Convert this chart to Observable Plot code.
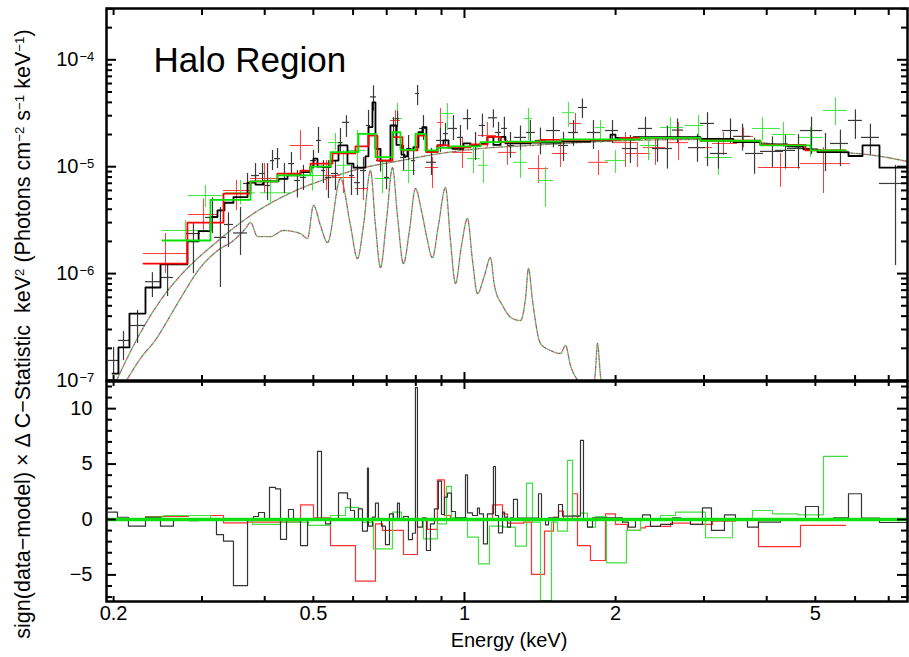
<!DOCTYPE html>
<html><head><meta charset="utf-8">
<script src="https://cdn.jsdelivr.net/npm/d3@7"></script>
<script src="https://cdn.jsdelivr.net/npm/@observablehq/plot@0.6"></script>
<style>
body{margin:0;background:#fff;}
#wrap{position:relative;width:909px;height:657px;font-family:"Liberation Sans",Arial,Helvetica,sans-serif;color:#000;overflow:hidden;}
#top,#bot{position:absolute;left:0;}
#top{top:0;z-index:2;} #bot{top:380px;z-index:1;}
#top svg,#bot svg{overflow:visible;}
#ytitle{position:absolute;left:24px;top:334px;transform:translate(-50%,-50%) rotate(-90deg);white-space:nowrap;font-size:21.5px;line-height:1;}
#ytitle sup{font-size:0.62em;vertical-align:0.5em;line-height:0;}
#xtitle{position:absolute;left:509px;top:640px;transform:translate(-50%,-50%);font-size:20px;white-space:nowrap;line-height:1;}
</style></head>
<body><div id="wrap"><div id="top"></div><div id="bot"></div>
<div id="ytitle">sign(data−model) × Δ C−Statistic&nbsp;&nbsp;keV<sup>2</sup> (Photons cm<sup>−2</sup> s<sup>−1</sup> keV<sup>−1</sup>)</div>
<div id="xtitle">Energy (keV)</div></div>
<script>
// ---------- axes ----------
const xDomain = [0.1936, 7.63];
const xTicksMinor = [0.2,0.3,0.4,0.5,0.6,0.7,0.8,0.9,2,3,4,5,6,7];
const xTicksMajor = [1];
const xTickLabels = [0.2, 0.5, 1, 2, 5];
const yTopDomain = [1e-7, 3.02e-4];
const yTopDecades = [1e-7, 1e-6, 1e-5, 1e-4];
const yTopExponents = ["−7", "−6", "−5", "−4"];
const yTopMinor = [2e-7,3e-7,4e-7,5e-7,6e-7,7e-7,8e-7,9e-7,2e-6,3e-6,4e-6,5e-6,6e-6,7e-6,8e-6,9e-6,2e-5,3e-5,4e-5,5e-5,6e-5,7e-5,8e-5,9e-5,2e-4,3e-4];
const yBotDomain = [-7.4, 12.45];
const yBotMajor = [-5, 0, 5, 10];
const yBotLabels = ["−5", "0", "5", "10"];
const yBotMinor = [-7,-6,-4,-3,-2,-1,1,2,3,4,6,7,8,9,11,12];

// ---------- folded models (bin edges, values) ----------
const blackModelE = [0.199,0.2045,0.2151,0.2315,0.248,0.2806,0.2954,0.3119,0.3221,0.3326,0.3466,0.3697,0.3835,0.3978,0.4261,0.4441,0.4714,0.4935,0.5003,0.5096,0.5214,0.5409,0.5611,0.5847,0.601,0.635,0.6438,0.6557,0.6648,0.6802,0.7121,0.732,0.749,0.7593,0.7699,0.7914,0.8097,0.8247,0.8399,0.8834,0.9081,0.9294,0.9465,0.9954,1.028,1.076,1.111,1.142,1.18,1.207,1.354,1.553,1.782,1.954,1.999,2.171,2.952,3.434,3.887,4.4,4.735,5.049,5.821,6.207,6.71,7.63];
const blackModel = [1.16e-7,2.04e-7,4.23e-7,7.41e-7,1.22e-6,2.0e-6,2.5e-6,3.4e-6,3.9e-6,4.6e-6,5.2e-6,7.1e-6,6.8e-6,7.3e-6,7.7e-6,8.3e-6,8.9e-6,1.0e-5,1.19e-5,1.0e-5,9.9e-6,1.14e-5,1.58e-5,1.07e-5,9.8e-6,1.25e-5,2.35e-5,4.0e-5,1.47e-5,1.14e-5,2.43e-5,1.6e-5,1.3e-5,1.25e-5,1.45e-5,1.52e-5,2.1e-5,2.35e-5,1.37e-5,1.58e-5,1.76e-5,1.5e-5,1.47e-5,1.65e-5,1.58e-5,1.64e-5,1.89e-5,1.6e-5,1.9e-5,1.65e-5,1.68e-5,1.72e-5,1.76e-5,2.0e-5,1.86e-5,1.89e-5,1.82e-5,1.7e-5,1.62e-5,1.55e-5,1.45e-5,1.37e-5,1.26e-5,1.58e-5,9.8e-6];
const redModelE = [0.2294,0.2806,0.3311,0.3748,0.4241,0.4714,0.4935,0.5458,0.6066,0.6438,0.6709,0.7187,0.7524,0.806,0.8399,0.8834,0.9294,1.028,1.111,1.18,1.417,2.045,2.952,3.887,4.779,5.741];
const redModel = [1.24e-6,3.0e-6,5.6e-6,7.3e-6,8.6e-6,9.2e-6,1.07e-5,1.33e-5,1.55e-5,1.95e-5,1.14e-5,1.89e-5,1.42e-5,1.95e-5,1.37e-5,1.58e-5,1.52e-5,1.62e-5,1.9e-5,1.7e-5,1.78e-5,1.86e-5,1.75e-5,1.6e-5,1.42e-5];
const greenModelE = [0.2503,0.3119,0.3748,0.4241,0.4935,0.5409,0.6149,0.6648,0.7187,0.7455,0.7986,0.8361,0.8834,0.9378,1.076,1.18,1.553,2.242,2.952,3.887,4.89,5.741];
const greenModel = [2.04e-6,4.9e-6,7.3e-6,8.3e-6,1.0e-5,1.37e-5,2.03e-5,1.23e-5,2.1e-5,1.44e-5,2.03e-5,1.42e-5,1.5e-5,1.55e-5,1.7e-5,1.72e-5,1.8e-5,1.86e-5,1.75e-5,1.58e-5,1.42e-5];

// ---------- model components (dotted) ----------
const contE = [0.2027,0.2141,0.2263,0.239,0.2537,0.2718,0.2911,0.3148,0.3419,0.3748,0.4203,0.4714,0.5409,0.6206,0.7455,0.8959,1.0761,1.3537,1.866,2.952,3.887,5.119,6.741,7.628];
const contV = [1.0e-7,1.71e-7,2.81e-7,4.33e-7,6.51e-7,9.6e-7,1.33e-6,1.83e-6,2.53e-6,3.49e-6,4.83e-6,6.25e-6,7.93e-6,9.62e-6,1.14e-5,1.33e-5,1.48e-5,1.58e-5,1.72e-5,1.8e-5,1.68e-5,1.42e-5,1.25e-5,1.12e-5];
const thermE = [0.2132,0.2263,0.2435,0.2561,0.2718,0.2979,0.3221,0.3466,0.3663,0.3748,0.387,0.4108,0.4359,0.4714,0.4868,0.5003,0.5166,0.5335,0.5662,0.5928,0.6121,0.6292,0.6497,0.6648,0.6802,0.6992,0.7187,0.7353,0.7559,0.7769,0.7986,0.8209,0.8399,0.8634,0.8874,0.9166,0.9378,0.9596,0.9863,1.0139,1.0374,1.0614,1.096,1.1265,1.1474,1.1906,1.2464,1.293,1.323,1.3414,1.3662,1.4173,1.4835,1.5534,1.5894,1.6262,1.6793,1.7418,1.7988,1.8237,1.8405,1.866,1.9093];
const thermV = [1.04e-7,1.61e-7,2.47e-7,3.64e-7,5.85e-7,1.14e-6,1.64e-6,2.04e-6,2.64e-6,3.01e-6,2.22e-6,2.22e-6,2.53e-6,2.37e-6,2.13e-6,4.34e-6,2.82e-6,1.95e-6,7.76e-6,2.82e-6,1.38e-6,2.82e-6,9.21e-6,2.82e-6,1.14e-6,3.14e-6,9.83e-6,3.49e-6,1.24e-6,2.53e-6,6.25e-6,3.89e-6,2.27e-6,1.41e-6,2.82e-6,6.39e-6,2.04e-6,8.08e-7,1.83e-6,3.28e-6,1.33e-6,6.51e-7,9.6e-7,1.41e-6,7.74e-7,5.03e-7,3.8e-7,3.64e-7,5.85e-7,1.12e-6,5.6e-7,2.22e-7,1.91e-7,1.79e-7,2.13e-7,1.38e-7,1.0e-7,7.24e-8,7.24e-8,1.24e-7,2.22e-7,1.11e-7,6.5e-8];

// ---------- data points ----------
const blackE = [0.2,0.2093,0.2232,0.239,0.2562,0.2885,0.3148,0.3265,0.3388,0.358,0.3697,0.3835,0.396,0.4052,0.4146,0.4242,0.4379,0.4522,0.4648,0.4778,0.5003,0.5119,0.5237,0.5359,0.5534,0.5662,0.582,0.5955,0.6121,0.6293,0.644,0.6589,0.6805,0.6995,0.7223,0.7357,0.7563,0.7739,0.7918,0.8065,0.8286,0.8596,0.8957,0.9167,0.9508,0.9818,1.0139,1.052,1.086,1.142,1.169,1.201,1.235,1.293,1.353,1.417,1.504,1.575,1.649,1.718,1.807,1.972,2.141,2.294,2.424,2.537,2.657,2.912,3.049,3.206,3.388,3.58,3.783,4.107,4.36,4.628,4.913,5.238,5.61,6.009,6.437,7.222];
const blackElo = [0.1953,0.2046,0.2152,0.2315,0.248,0.2793,0.3048,0.3177,0.3326,0.3466,0.363,0.3765,0.3906,0.4015,0.4108,0.4184,0.43,0.4461,0.4585,0.4713,0.4934,0.5072,0.5189,0.5285,0.5433,0.561,0.5715,0.5901,0.6038,0.6206,0.638,0.6499,0.6681,0.6931,0.7124,0.7289,0.7459,0.7668,0.7844,0.7991,0.8138,0.84,0.8795,0.9082,0.9292,0.9685,0.9954,1.033,1.071,1.116,1.153,1.185,1.218,1.258,1.329,1.385,1.457,1.539,1.611,1.687,1.758,1.909,2.064,2.221,2.369,2.48,2.596,2.794,2.952,3.09,3.266,3.436,3.63,3.887,4.164,4.4,4.671,4.935,5.36,5.82,6.177,6.709];
const blackEhi = [0.2046,0.2152,0.2315,0.248,0.2633,0.2979,0.3236,0.3357,0.3466,0.3697,0.3765,0.3906,0.4015,0.4108,0.4184,0.43,0.4461,0.4585,0.4713,0.4845,0.5072,0.5189,0.5285,0.5433,0.561,0.5715,0.5901,0.6038,0.6206,0.638,0.6499,0.6681,0.6931,0.7092,0.7289,0.7424,0.7668,0.7844,0.7991,0.8138,0.84,0.8795,0.9082,0.9292,0.9685,0.9954,1.033,1.071,1.101,1.163,1.185,1.218,1.258,1.329,1.385,1.457,1.553,1.611,1.687,1.758,1.866,2.027,2.211,2.369,2.48,2.596,2.731,3.02,3.148,3.342,3.515,3.714,3.942,4.32,4.565,4.89,5.166,5.559,5.82,6.205,6.709,7.56];
const blackV = [1.54e-7,2.37e-7,3.27e-7,8.4e-7,9.2e-7,2.37e-6,3.35e-6,2.18e-6,2.88e-6,2.4e-6,6.97e-6,8.27e-6,8.64e-6,6.67e-6,1.14e-5,1.19e-5,7.76e-6,1.07e-5,7.43e-6,7.93e-6,1.14e-5,1.76e-5,9.21e-6,7.93e-6,8.64e-6,1.68e-5,2.6e-5,8.27e-6,7.1e-6,9.21e-6,2.43e-5,4.5e-5,1.14e-5,7.93e-6,2.43e-5,2.82e-5,1.22e-5,1.48e-5,1.14e-5,4.84e-5,2.28e-5,1.1e-5,1.76e-5,2.04e-5,2.28e-5,1.88e-5,2.82e-5,1.58e-5,2.43e-5,2.87e-5,2.09e-5,2.28e-5,1.58e-5,1.88e-5,2.09e-5,1.76e-5,2.18e-5,1.58e-5,2.09e-5,3.58e-5,2.09e-5,2.18e-5,1.48e-5,2.28e-5,1.48e-5,1.48e-5,2.2e-5,1.51e-5,2.54e-5,1.33e-5,2.18e-5,1.92e-5,1.33e-5,1.39e-5,1.42e-5,1.48e-5,2.18e-5,1.42e-5,1.65e-5,2.71e-5,1.88e-5,6.97e-6];
const blackVlo = [1.16e-7,1.54e-7,2.22e-7,5.97e-7,6.1e-7,1.0e-6,2.37e-6,7.41e-7,1.75e-6,1.48e-6,5.61e-6,6.97e-6,6.67e-6,4.83e-6,9.21e-6,9.6e-6,5.61e-6,8.27e-6,5.1e-6,5.99e-6,9.5e-6,1.33e-5,6.97e-6,5.04e-6,5.99e-6,1.36e-5,1.88e-5,5.38e-6,5.38e-6,5.99e-6,1.65e-5,3.3e-5,8.9e-6,6.1e-6,1.88e-5,2.33e-5,9.21e-6,1.14e-5,8.27e-6,3.73e-5,1.76e-5,8.27e-6,1.36e-5,1.58e-5,1.76e-5,1.42e-5,2.2e-5,1.14e-5,1.88e-5,2.3e-5,1.65e-5,1.76e-5,1.2e-5,1.42e-5,1.6e-5,1.29e-5,1.5e-5,1.12e-5,1.55e-5,2.82e-5,1.45e-5,1.65e-5,1.07e-5,1.76e-5,1.1e-5,9.5e-6,1.65e-5,1.1e-5,1.0e-5,9.5e-6,1.65e-5,1.4e-5,8.5e-6,9.8e-6,9.5e-6,9.5e-6,1.3e-5,9e-6,1.0e-5,1.8e-5,1.27e-5,1.19e-6];
const blackVhi = [2.04e-7,2.87e-7,4.52e-7,1.02e-6,1.24e-6,3.0e-6,5.1e-6,4.15e-6,3.7e-6,4.15e-6,8.64e-6,1.07e-5,1.07e-5,1.07e-5,1.42e-5,1.48e-5,1.07e-5,1.36e-5,9.21e-6,1.03e-5,1.42e-5,2.33e-5,1.14e-5,1.14e-5,1.14e-5,2.28e-5,3.0e-5,1.03e-5,1.03e-5,1.22e-5,3.36e-5,5.7e-5,1.48e-5,1.1e-5,2.88e-5,3.3e-5,1.58e-5,1.96e-5,1.48e-5,5.75e-5,3.01e-5,1.48e-5,2.28e-5,2.54e-5,3.01e-5,2.43e-5,3.4e-5,2.09e-5,3.1e-5,3.4e-5,2.6e-5,2.9e-5,2.09e-5,2.4e-5,2.7e-5,2.3e-5,2.9e-5,2.1e-5,2.7e-5,4.3e-5,2.7e-5,2.7e-5,1.96e-5,2.9e-5,1.88e-5,2.4e-5,2.8e-5,2.0e-5,3.2e-5,1.7e-5,2.8e-5,2.5e-5,1.85e-5,1.9e-5,1.95e-5,2.0e-5,2.9e-5,2.05e-5,2.2e-5,3.4e-5,2.5e-5,1.03e-5];

const redE = [0.2538,0.302,0.3514,0.3997,0.4713,0.5309,0.5741,0.6293,0.7289,0.8635,0.8957,0.9908,1.111,1.218,1.404,1.553,1.664,1.849,2.093,2.211,2.402,2.67,2.912,3.281,3.597,4.261,5.19];
const redElo = [0.2294,0.2819,0.3311,0.3748,0.4502,0.5003,0.5458,0.6066,0.7124,0.8362,0.8834,0.9465,1.066,1.169,1.341,1.497,1.618,1.766,1.972,2.093,2.273,2.537,2.794,3.119,3.467,3.852,4.671];
const redEhi = [0.2806,0.3236,0.3748,0.4242,0.5003,0.5662,0.6066,0.644,0.7459,0.8876,0.9082,1.0373,1.158,1.269,1.47,1.604,1.71,1.936,2.211,2.347,2.514,2.794,3.119,3.499,3.765,4.671,5.873];
const redV = [1.54e-6,3.57e-6,5.99e-6,7.76e-6,1.58e-5,8.27e-6,7.93e-6,6.25e-6,2.71e-5,9.83e-6,2.59e-5,1.36e-5,1.96e-5,1.36e-5,9.6e-6,1.33e-5,2.54e-5,1.1e-5,1.68e-5,1.33e-5,1.51e-5,1.68e-5,1.51e-5,1.65e-5,1.92e-5,9.83e-6,1.07e-5];
const redVlo = [1.0e-6,2.4e-6,3.89e-6,5.61e-6,1.14e-5,5.99e-6,5.61e-6,4.83e-6,2.04e-5,6.25e-6,1.88e-5,9.6e-6,1.5e-5,1.03e-5,6.97e-6,9.83e-6,2.04e-5,8.27e-6,9.83e-6,9.83e-6,1.03e-5,1.14e-5,1.14e-5,1.27e-5,1.5e-5,6.4e-6,5.61e-6];
const redVhi = [2.37e-6,5.0e-6,7.43e-6,1.07e-5,2.18e-5,1.14e-5,9.8e-6,7.93e-6,3.36e-5,1.22e-5,3.5e-5,1.84e-5,2.6e-5,1.76e-5,1.27e-5,1.76e-5,3.15e-5,1.42e-5,2.09e-5,1.68e-5,1.84e-5,2.59e-5,1.76e-5,2.09e-5,2.3e-5,1.33e-5,1.51e-5];

const greenE = [0.278,0.3048,0.358,0.411,0.498,0.5534,0.5741,0.6121,0.6868,0.7357,0.7739,0.9249,1.042,1.091,1.293,1.341,1.45,1.611,1.866,2.0,2.326,2.572,2.925,3.206,3.923,4.32,4.89,5.483];
const greenElo = [0.2503,0.2819,0.3341,0.3924,0.4713,0.5359,0.5585,0.5874,0.665,0.719,0.7528,0.8957,1.0139,1.066,1.252,1.317,1.404,1.567,1.824,1.909,2.242,2.457,2.755,3.02,3.747,4.107,4.628,5.19];
const greenEhi = [0.309,0.3311,0.3835,0.4502,0.5285,0.5741,0.5928,0.6351,0.7124,0.7528,0.7991,0.9508,1.076,1.116,1.335,1.366,1.504,1.657,1.909,2.093,2.424,2.731,2.993,3.42,4.261,4.565,5.19,5.793];
const greenV = [2.53e-6,5.38e-6,5.7e-6,5.7e-6,8.27e-6,1.68e-5,1.03e-5,1.42e-5,7.76e-6,2.82e-5,9.21e-6,3.15e-5,1.19e-5,1.03e-5,1.1e-5,2.82e-5,7.43e-6,3.2e-5,2.33e-5,1.14e-5,1.58e-5,2.33e-5,2.43e-5,1.22e-5,2.28e-5,2.0e-5,1.88e-5,3.36e-5];
const greenVlo = [2.04e-6,4.15e-6,4.4e-6,4.4e-6,5.9e-6,1.42e-5,7.43e-6,9.6e-6,5.61e-6,2.04e-5,6.97e-6,2.18e-5,8.64e-6,6.97e-6,7.76e-6,1.76e-5,4.15e-6,2.33e-5,1.65e-5,8.64e-6,1.14e-5,1.88e-5,1.76e-5,8.27e-6,1.76e-5,1.51e-5,1.22e-5,2.43e-5];
const greenVhi = [3.14e-6,6.67e-6,7.43e-6,7.9e-6,1.07e-5,2.04e-5,1.42e-5,2.18e-5,1.14e-5,3.9e-5,1.22e-5,3.9e-5,1.58e-5,1.42e-5,1.42e-5,3.5e-5,9.83e-6,3.99e-5,2.71e-5,1.42e-5,1.88e-5,2.87e-5,3.01e-5,1.58e-5,2.87e-5,2.59e-5,2.33e-5,4.4e-5];

// ---------- residuals (bin edges, values) ----------
const blackResE = [0.1954,0.2036,0.2141,0.2315,0.248,0.2632,0.2832,0.2954,0.3206,0.3311,0.3466,0.3697,0.38,0.3888,0.3996,0.4089,0.4203,0.4301,0.4421,0.4461,0.4565,0.4714,0.4868,0.5096,0.519,0.5286,0.5409,0.5611,0.5847,0.5928,0.6038,0.6149,0.6263,0.6409,0.6438,0.6557,0.6648,0.674,0.6834,0.696,0.7089,0.722,0.7353,0.7421,0.7559,0.7734,0.7877,0.7986,0.806,0.8247,0.8399,0.8555,0.8713,0.8874,0.8999,0.9123,0.925,0.9421,0.9596,1.0046,1.0139,1.0374,1.0614,1.0712,1.091,1.1111,1.1421,1.1527,1.1689,1.1906,1.2015,1.2182,1.235,1.2521,1.2753,1.4043,1.4238,1.4501,1.4702,1.5392,1.5677,1.7026,1.7261,1.7581,1.7988,2.0641,2.1217,2.191,2.2626,2.3471,2.4573,2.5963,2.6934,2.8199,2.9792,3.1048,3.2955,3.466,3.6623,3.8518,4.2608,4.7791,5.0726,5.4335,5.8206,6.1783,6.7098,7.628];
const blackRes = [0.66,0.2,-0.6,0.2,-0.6,0.05,-0.1,0,-1.36,-1.96,-5.96,0,0.27,0.63,0,2.9,2.76,-1.8,0,0.9,0,-2.35,0,6.14,0,-0.4,0,2.4,1.87,0.81,0.06,0.96,-1.05,4.63,-0.6,0.21,1.47,-0.09,-0.6,-2.26,0.51,0.06,1.47,0,0.27,-1.81,-1.24,11.9,-0.69,0.15,-2.8,-0.39,0.96,3.46,0.45,2.02,2.38,0.72,0.15,4.03,0.6,0.36,1.02,0.51,-2.2,0.51,4.78,0.36,-1.2,0.66,0.21,-0.69,0.15,1.81,0.12,2.32,-0.09,-0.48,0.15,1.35,0.3,7.13,-0.09,-0.69,0.15,-0.24,-0.69,0.06,0.42,-0.63,-0.45,0.15,-0.09,-0.45,1.05,-0.99,0.42,-0.09,-0.69,-0.24,-0.09,1.17,0,0.15,2.32,0.12,-0.27];
const redResE = [0.2315,0.2819,0.3311,0.3697,0.4714,0.5003,0.5409,0.6066,0.6648,0.6865,0.7559,0.806,0.8438,0.8834,0.9123,0.9378,1.1369,1.1906,1.2182,1.3109,1.3599,1.4435,1.5043,1.5392,1.5749,1.6412,1.6793,1.7824,1.9093,1.999,2.112,2.2419,2.2939,2.5727,2.8199,3.119,3.466,3.8518,4.6706,5.741];
const redRes = [0.27,0.36,-0.3,-0.24,1.32,0.15,-2.35,-5.57,-0.39,-0.99,-3.16,-0.09,-0.9,3.58,0.36,0.06,1.32,0.51,-0.33,-0.24,-4.96,-1.05,0.21,0.75,0.06,2.32,-2.35,-3.7,0.51,-0.45,-0.99,-0.75,-0.63,-0.33,-0.45,-0.15,-0.09,-2.44,-0.54];
const greenResE = [0.2315,0.2514,0.3119,0.3782,0.4301,0.489,0.5409,0.5794,0.6149,0.6263,0.6588,0.7187,0.749,0.8285,0.8834,0.9207,0.9421,1.0139,1.0663,1.1214,1.196,1.2637,1.3291,1.3662,1.4173,1.4906,1.5322,1.604,1.6412,1.7026,1.7581,1.8237,1.9181,2.1024,2.2419,2.4573,2.6323,3.0205,3.4186,3.7473,4.1073,4.6068,5.1898,5.7939];
const greenRes = [0.21,0.36,-0.03,-0.45,-0.24,-0.54,0.36,1.1,0.06,-0.24,-2.65,0.66,-0.09,-1.75,-0.39,2.98,0.15,-1.6,-4.0,-0.6,-0.69,-2.41,3.28,-0.24,-7.31,-0.24,-1.05,5.33,0.36,0.57,-0.69,0.27,-3.91,-0.99,-0.09,0.36,0.66,-1.65,-0.09,0.81,0.51,0.42,5.69];

// ---------- helpers ----------
const FONT = '"Liberation Sans", Arial, Helvetica, sans-serif';
const C_BLACK = "#000", C_RED = "#ff0000", C_GREEN = "#00e400";
function steps(edges, values) {
  const n = Math.min(values.length, edges.length - 1);
  const pts = [];
  for (let i = 0; i < n; i++) pts.push({x: edges[i], y: values[i]});
  pts.push({x: edges[n], y: values[n - 1]});
  return pts;
}
function pairs(xs, ys) { return xs.map((x, i) => ({x, y: ys[i]})); }
function crosses(c, lo, hi, v, vlo, vhi, color, w) {
  const d = c.map((_, i) => ({c: c[i], lo: lo[i], hi: hi[i], v: v[i], vlo: vlo[i], vhi: vhi[i]}));
  return [
    Plot.ruleY(d, {y: "v", x1: "lo", x2: "hi", stroke: color, strokeWidth: w, clip: true}),
    Plot.ruleX(d, {x: "c", y1: "vlo", y2: "vhi", stroke: color, strokeWidth: w, clip: true})
  ];
}
function dotted(pts) {
  return [["#c83c3c", 0], ["#3cb43c", 2.6], ["#555555", 5.2]].map(([c, o]) =>
    Plot.line(pts, {x: "x", y: "y", stroke: c, strokeWidth: 1.4, strokeOpacity: 0.85, strokeDasharray: "1.3,6.5", strokeDashoffset: o, curve: "monotone-x", clip: true}));
}
function xTickMarks(vals, len, frameH, side) {
  const opt = {x: d => d, stroke: "black", strokeWidth: 2};
  opt[side === "bottom" ? "insetTop" : "insetBottom"] = frameH - len;
  return Plot.tickX(vals, opt);
}
function yTickMarks(vals, len, frameW, side) {
  const opt = {y: d => d, stroke: "black", strokeWidth: 2};
  opt[side === "left" ? "insetRight" : "insetLeft"] = frameW - len;
  return Plot.tickY(vals, opt);
}

const FW = 801, FH_TOP = 372, FH_BOT = 220;

// ---------- top panel ----------
const topPlot = Plot.plot({
  width: 909, height: 381,
  marginLeft: 106, marginRight: 2, marginTop: 8, marginBottom: 1,
  x: {type: "log", domain: xDomain, axis: null},
  y: {type: "log", domain: yTopDomain, axis: null},
  style: {background: "transparent", fontFamily: FONT, color: "black", overflow: "visible"},
  marks: [
    ...dotted(pairs(contE, contV)),
    ...dotted(pairs(thermE, thermV)),
    ...crosses(redE, redElo, redEhi, redV, redVlo, redVhi, "#ff3a3a", 1),
    ...crosses(greenE, greenElo, greenEhi, greenV, greenVlo, greenVhi, "#3ae83a", 1),
    ...crosses(blackE, blackElo, blackEhi, blackV, blackVlo, blackVhi, "#3a3a3a", 1.2),
    Plot.line(steps(blackModelE, blackModel), {x: "x", y: "y", curve: "step-after", stroke: C_BLACK, strokeWidth: 1.8, clip: true}),
    Plot.line(steps(redModelE, redModel), {x: "x", y: "y", curve: "step-after", stroke: C_RED, strokeWidth: 1.8, clip: true}),
    Plot.line(steps(greenModelE, greenModel), {x: "x", y: "y", curve: "step-after", stroke: C_GREEN, strokeWidth: 1.8, clip: true}),
    Plot.frame({stroke: "black", strokeWidth: 2.5}),
    xTickMarks(xTicksMinor, 5, FH_TOP, "bottom"),
    xTickMarks(xTicksMajor, 8, FH_TOP, "bottom"),
    xTickMarks(xTicksMinor, 7, FH_TOP, "top"),
    xTickMarks(xTicksMajor, 10, FH_TOP, "top"),
    yTickMarks(yTopMinor, 6, FW, "left"),
    yTickMarks(yTopDecades, 10, FW, "left"),
    yTickMarks(yTopMinor, 6, FW, "right"),
    yTickMarks(yTopDecades, 10, FW, "right"),
    Plot.text(yTopDecades, {y: d => d, text: () => "10", frameAnchor: "left", textAnchor: "end", dx: -28, fontSize: 20, fill: "black"}),
    Plot.text(yTopDecades, {y: d => d, text: (d, i) => yTopExponents[i], frameAnchor: "left", textAnchor: "start", dx: -27, dy: -3, fontSize: 13, fill: "black"}),
    Plot.text(["Halo Region"], {frameAnchor: "top-left", text: d => d, textAnchor: "start", lineAnchor: "top", dx: 47, dy: 39, fontSize: 35, fill: "black"})
  ]
});
document.getElementById("top").appendChild(topPlot);

// ---------- bottom panel ----------
const botPlot = Plot.plot({
  width: 909, height: 277,
  marginLeft: 106, marginRight: 2, marginTop: 1, marginBottom: 56,
  x: {type: "log", domain: xDomain, axis: null},
  y: {domain: yBotDomain, axis: null},
  style: {background: "transparent", fontFamily: FONT, color: "black", overflow: "visible"},
  marks: [
    Plot.line(steps(redResE, redRes), {x: "x", y: "y", curve: "step-after", stroke: "#ff3030", strokeWidth: 1.2, clip: true}),
    Plot.line(steps(greenResE, greenRes), {x: "x", y: "y", curve: "step-after", stroke: "#40e040", strokeWidth: 1.2, clip: true}),
    Plot.line(steps(blackResE, blackRes), {x: "x", y: "y", curve: "step-after", stroke: "#333", strokeWidth: 1.2, clip: true}),
    Plot.ruleY([0], {stroke: "#10e010", strokeWidth: 3.5}),
    Plot.frame({stroke: "black", strokeWidth: 2.5}),
    xTickMarks(xTicksMinor, 5, FH_BOT, "top"),
    xTickMarks(xTicksMajor, 8, FH_BOT, "top"),
    xTickMarks(xTicksMinor, 5, FH_BOT, "bottom"),
    xTickMarks(xTicksMajor, 9, FH_BOT, "bottom"),
    yTickMarks(yBotMinor, 6, FW, "left"),
    yTickMarks(yBotMajor, 10, FW, "left"),
    yTickMarks(yBotMinor, 6, FW, "right"),
    yTickMarks(yBotMajor, 10, FW, "right"),
    Plot.text(yBotMajor, {y: d => d, text: (d, i) => yBotLabels[i], frameAnchor: "left", textAnchor: "end", dx: -14, fontSize: 20, fill: "black"}),
    Plot.text(xTickLabels, {x: d => d, text: d => String(d), frameAnchor: "bottom", dy: 18, fontSize: 20, fill: "black"})
  ]
});
document.getElementById("bot").appendChild(botPlot);
</script>
</body></html>
